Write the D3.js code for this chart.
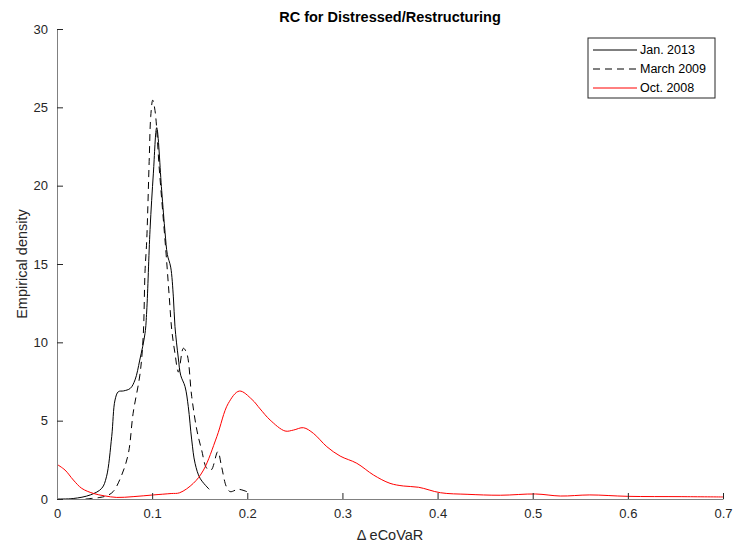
<!DOCTYPE html>
<meta charset="utf-8">
<script src="https://d3js.org/d3.v7.min.js"></script>
<style>
    body { margin: 0; background: #fff; }
    text { font-family: "Liberation Sans", Arial, sans-serif; fill: #262626; }
</style>
<div id="my_dataviz"></div>

<script>
    // values
    var jan2013X = [0, 0.017, 0.035, 0.047, 0.052, 0.0575, 0.061, 0.0645, 0.070, 0.077, 0.082, 0.087, 0.0925, 0.0943, 0.0978, 0.1013, 0.1048, 0.110, 0.1136, 0.116, 0.1195, 0.1223, 0.124, 0.1275, 0.130, 0.1346, 0.138, 0.1416, 0.1451, 0.1504, 0.160];
    var jan2013Y = [0, 0.03, 0.26, 0.68, 1.42, 3.98, 6.32, 6.85, 6.9, 7.06, 7.6, 8.87, 10.57, 12.0, 17.2, 20.8, 23.7, 19.7, 17.0, 15.6, 14.8, 12.9, 11.0, 9.0, 7.9, 7.17, 5.89, 3.77, 2.28, 1.32, 0.62];

    var mar2009X = [0.03, 0.045, 0.052, 0.059, 0.068, 0.075, 0.080, 0.0873, 0.0907, 0.0925, 0.0943, 0.097, 0.0985, 0.1006, 0.103, 0.1076, 0.1146, 0.118, 0.1206, 0.124, 0.1276, 0.1328, 0.1364, 0.1416, 0.147, 0.152, 0.1574, 0.162, 0.169, 0.173, 0.178, 0.182, 0.1906, 0.1995];
    var mar2009Y = [0, 0.1, 0.2, 0.47, 1.53, 2.91, 5.47, 8.0, 10.5, 14.5, 16.5, 21.8, 24.4, 25.46, 24.8, 21.0, 15.7, 12.9, 10.8, 9.3, 8.1, 9.62, 9.3, 6.53, 4.4, 3.13, 1.96, 1.85, 3.02, 2.06, 0.79, 0.47, 0.62, 0.47];

    var oct2008X = [0, 0.0084, 0.0172, 0.026, 0.038, 0.05, 0.0628, 0.08, 0.1013, 0.12, 0.129, 0.1433, 0.154, 0.168, 0.18, 0.1917, 0.205, 0.2135, 0.224, 0.2397, 0.2485, 0.259, 0.2695, 0.2836, 0.2976, 0.3151, 0.3327, 0.35, 0.364, 0.38, 0.403, 0.431, 0.466, 0.503, 0.529, 0.56, 0.6, 0.656, 0.7];
    var oct2008Y = [2.21, 1.85, 1.21, 0.68, 0.36, 0.2, 0.1, 0.15, 0.26, 0.35, 0.4, 1.0, 1.85, 3.98, 6.1, 6.89, 6.35, 5.75, 5.04, 4.34, 4.4, 4.55, 4.19, 3.34, 2.74, 2.28, 1.53, 1.0, 0.83, 0.75, 0.4, 0.3, 0.24, 0.32, 0.19, 0.26, 0.17, 0.15, 0.13];

    var seriesNames = ["Jan. 2013", "March 2009", "Oct. 2008"];
    var xTicks = [0, 0.1, 0.2, 0.3, 0.4, 0.5, 0.6, 0.7];
    var yTicks = [0, 5, 10, 15, 20, 25, 30];

    var series = [
        {name: seriesNames[0], xs: jan2013X, ys: jan2013Y, color: "#000", dash: null},
        {name: seriesNames[1], xs: mar2009X, ys: mar2009Y, color: "#000", dash: "7,5"},
        {name: seriesNames[2], xs: oct2008X, ys: oct2008Y, color: "#ff0000", dash: null}
    ];

    var margin = {top: 29, right: 14, bottom: 47, left: 57},
        width = 737 - margin.left - margin.right,
        height = 546 - margin.top - margin.bottom;

    var root = d3.select("#my_dataviz")
        .append("svg")
        .attr("width", 737)
        .attr("height", 546);

    var svg = root.append("g")
        .attr("transform", "translate(" + margin.left + "," + margin.top + ")");

    var x = d3.scaleLinear().domain([0, 0.7]).range([0, width]);
    var y = d3.scaleLinear().domain([0, 30]).range([height, 0]);

    svg.append("clipPath").attr("id", "clip")
        .append("rect").attr("width", width).attr("height", height);

    // curves
    var line = d3.line()
        .x(function (d) { return x(d[0]); })
        .y(function (d) { return y(d[1]); })
        .curve(d3.curveCatmullRom.alpha(0.5));

    svg.append("g").attr("clip-path", "url(#clip)")
        .selectAll("path")
        .data(series)
        .enter()
        .append("path")
        .attr("d", function (s) { return line(d3.zip(s.xs, s.ys)); })
        .attr("fill", "none")
        .attr("stroke", function (s) { return s.color; })
        .attr("stroke-width", 1)
        .attr("stroke-dasharray", function (s) { return s.dash; });

    // X axis (ticks point inward)
    var xAxis = svg.append("g")
        .attr("transform", "translate(0," + height + ")")
        .call(d3.axisBottom(x).tickValues(xTicks).tickSizeInner(-6).tickSizeOuter(0)
            .tickFormat(function (d) { return d === 0 ? "0" : d3.format(".1f")(d); }));
    xAxis.select(".domain").attr("stroke", "#808080");
    xAxis.selectAll(".tick line").attr("stroke", "#262626");
    xAxis.selectAll(".tick text").attr("y", 10).style("font-size", "13px")
        .style("font-family", "'Liberation Sans', Arial, sans-serif").attr("fill", "#262626");

    // Y axis
    var yAxis = svg.append("g")
        .call(d3.axisLeft(y).tickValues(yTicks).tickSizeInner(-6).tickSizeOuter(0));
    yAxis.select(".domain").attr("stroke", "#808080");
    yAxis.selectAll(".tick line").attr("stroke", "#262626");
    yAxis.selectAll(".tick text").attr("x", -9).style("font-size", "13px")
        .style("font-family", "'Liberation Sans', Arial, sans-serif").attr("fill", "#262626");

    // labels
    svg.append("text")
        .attr("x", width / 2)
        .attr("y", height + 41)
        .style("text-anchor", "middle")
        .style("font-size", "14.5px")
        .text("\u0394 eCoVaR");

    svg.append("text")
        .attr("transform", "rotate(-90)")
        .attr("x", -height / 2)
        .attr("y", -30)
        .style("text-anchor", "middle")
        .style("font-size", "14.5px")
        .text("Empirical density");

    root.append("text")
        .attr("x", margin.left + width / 2)
        .attr("y", 22)
        .style("text-anchor", "middle")
        .style("font-size", "14.5px")
        .style("font-weight", "bold")
        .style("fill", "#000")
        .text("RC for Distressed/Restructuring");

    // legend
    var legend = root.append("g").attr("transform", "translate(588,38)");
    legend.append("rect")
        .attr("width", 127).attr("height", 60)
        .attr("fill", "#fff").attr("stroke", "#262626").attr("stroke-width", 1);
    var item = legend.selectAll(".item")
        .data(series)
        .enter()
        .append("g")
        .attr("transform", function (d, i) { return "translate(0," + (12 + i * 19) + ")"; });
    item.append("line")
        .attr("x1", 5).attr("x2", 49)
        .attr("stroke", function (d) { return d.color; })
        .attr("stroke-dasharray", function (d) { return d.dash; });
    item.append("text")
        .attr("x", 52).attr("dy", "0.35em")
        .style("font-size", "12.5px")
        .style("fill", "#000")
        .text(function (d) { return d.name; });
</script>
